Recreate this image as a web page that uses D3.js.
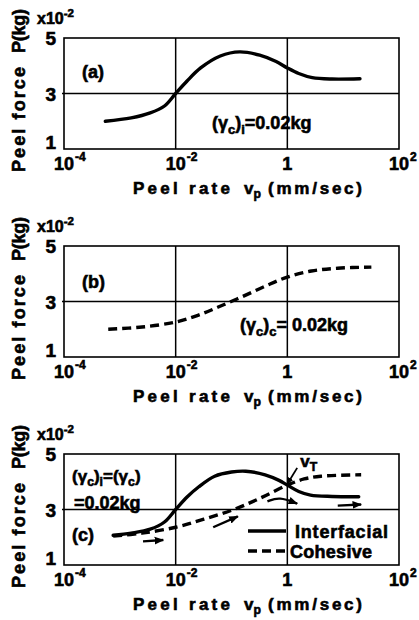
<!DOCTYPE html>
<html>
<head>
<meta charset="utf-8">
<script src="https://cdn.jsdelivr.net/npm/d3@7"></script>
<style>
  body { margin: 0; background: #fff; }
  svg text { font-family: "Liberation Sans", Arial, sans-serif; font-weight: bold; fill: #000;
             stroke: #000; stroke-width: 0.6; white-space: pre; }
</style>
</head>
<body>
<div id="chart"></div>
<script>
// Peel rate in mm/sec, peel force in units of 10^-2 kg

// Axis ticks
var rateTicks = [1e-4, 1e-2, 1, 1e2];
var rateTickExp = ["-4", "-2", "", "2"];
var rateGrid = [1e-2, 1];
var forceTicks = [1, 3, 5];
var forceGrid = [3];

// (a) interfacial failure
var rateA = [5.5e-4, 1.6e-3, 3.5e-3, 6.3e-3, 0.01, 0.016, 0.028, 0.063, 0.14, 0.32, 0.63, 1, 1.6, 2.8, 6.3, 20];
var forceA = [2.0, 2.12, 2.3, 2.55, 3.0, 3.45, 3.92, 4.35, 4.5, 4.38, 4.15, 3.92, 3.72, 3.57, 3.52, 3.53];

// (b) cohesive failure
var rateB = [6.2e-4, 2.5e-3, 0.01, 0.025, 0.058, 0.15, 0.4, 1, 2.7, 8, 32];
var forceB = [2.0, 2.08, 2.26, 2.5, 2.8, 3.16, 3.55, 3.88, 4.1, 4.2, 4.24];

// (c) both
var rateCi = [7.6e-4, 1.6e-3, 3.5e-3, 6.3e-3, 0.01, 0.016, 0.026, 0.05, 0.1, 0.18, 0.4, 0.71, 1, 1.6, 2.6, 6.3, 19];
var forceCi = [2.07, 2.15, 2.29, 2.55, 3.0, 3.45, 3.82, 4.2, 4.35, 4.38, 4.25, 4.05, 3.88, 3.65, 3.52, 3.47, 3.46];
var rateCc = [7.6e-4, 2.5e-3, 0.01, 0.032, 0.11, 0.32, 1, 2, 4, 21];
var forceCc = [2.04, 2.15, 2.36, 2.65, 3.0, 3.4, 3.88, 4.1, 4.2, 4.25];

// hysteresis arrows in (c)
var arrowRates = [[2.6e-3, 6e-3], [0.047, 0.13], [0.44, 0.72, 1.5], [8, 21]];
var arrowForces = [[1.85, 1.9], [2.36, 2.75], [3.29, 3.46, 3.21], [3.14, 3.18]];
// transition rate pointer
var vtRate = [1.5, 1.0];
var vtForce = [4.5, 3.92];

var width = 419, height = 620;
var left = 64, right = 399, panelH = 111;
var tops = [38, 246, 454];

var svg = d3.select("#chart").append("svg")
    .attr("width", width)
    .attr("height", height);

svg.append("defs").append("marker")
    .attr("id", "head")
    .attr("viewBox", "0 0 10 10")
    .attr("refX", 9).attr("refY", 5)
    .attr("markerWidth", 4).attr("markerHeight", 4)
    .attr("markerUnits", "strokeWidth")
    .attr("orient", "auto")
    .append("path")
    .attr("d", "M0,1 L10,5 L0,9 Z")
    .attr("fill", "#000");

var x = d3.scaleLog().domain([1e-4, 1e2]).range([left, right]);

function zip(a, b) {
    return a.map(function (v, i) { return [v, b[i]]; });
}

// text with sub/superscripts: parts = [[text, "n"|"sub"|"sup"], ...]
function richText(g, px, py, parts, size, anchor) {
    var t = g.append("text")
        .attr("x", px).attr("y", py)
        .attr("font-size", size)
        .attr("text-anchor", anchor || "start");
    var shift = 0;
    parts.forEach(function (p) {
        var target = p[1] === "sub" ? size * 0.25 : (p[1] === "sup" ? -size * 0.45 : 0);
        t.append("tspan")
            .attr("dy", target - shift)
            .attr("font-size", p[1] === "n" ? size : size * 0.72)
            .text(p[0]);
        shift = target;
    });
    return t;
}

function drawPanel(top) {
    var g = svg.append("g");
    var y = d3.scaleLinear().domain([1, 5]).range([top + panelH, top]);

    // frame and grid
    g.append("rect")
        .attr("x", left).attr("y", top)
        .attr("width", right - left).attr("height", panelH)
        .attr("fill", "none").attr("stroke", "#000").attr("stroke-width", 1.6);

    g.selectAll(".vgrid").data(rateGrid).join("line")
        .attr("x1", x).attr("x2", x)
        .attr("y1", top).attr("y2", top + panelH)
        .attr("stroke", "#000").attr("stroke-width", 1.5);

    g.selectAll(".hgrid").data(forceGrid).join("line")
        .attr("x1", left - 2).attr("x2", right)
        .attr("y1", y).attr("y2", y)
        .attr("stroke", "#000").attr("stroke-width", 1.5);

    // y tick labels
    g.selectAll(".ytick").data(forceTicks).join("text")
        .attr("x", 56)
        .attr("y", function (d) { return y(d) + (d === 1 ? 0 : 7); })
        .attr("text-anchor", "end")
        .attr("font-size", 19)
        .text(function (d) { return d; });

    richText(g, 37, top - 14, [["x10", "n"], ["-2", "sup"]], 16);

    // x tick labels
    rateTicks.forEach(function (d, i) {
        var label = rateTickExp[i] === "" ? "1" : "10";
        var t = g.append("text")
            .attr("x", x(d)).attr("y", top + panelH + 21)
            .attr("text-anchor", "middle")
            .attr("font-size", 18)
            .text(label);
        if (rateTickExp[i] !== "") {
            var w = t.node().getComputedTextLength();
            g.append("text")
                .attr("x", x(d) + w / 2 + 1).attr("y", top + panelH + 12)
                .attr("font-size", 12)
                .text(rateTickExp[i]);
        }
    });

    // axis titles
    var by = top + panelH + 45;
    g.append("text").attr("x", 133).attr("y", by).attr("font-size", 17)
        .attr("textLength", 97).attr("lengthAdjust", "spacing").text("Peel rate");
    richText(g, 244, by, [["v", "n"], ["p", "sub"]], 17);
    g.append("text").attr("x", 268).attr("y", by).attr("font-size", 17)
        .attr("textLength", 94).attr("lengthAdjust", "spacing").text("(mm/sec)");

    var yl = g.append("g").attr("transform", "translate(25," + (top + 134) + ") rotate(-90)");
    yl.append("text").attr("x", 0).attr("y", 0).attr("font-size", 18)
        .attr("textLength", 105).attr("lengthAdjust", "spacing").text("Peel force");
    yl.append("text").attr("x", 119).attr("y", 0).attr("font-size", 18)
        .attr("textLength", 44).attr("lengthAdjust", "spacing").text("P(kg)");

    return { g: g, y: y };
}

function curve(p, rates, forces, dashed) {
    var line = d3.line()
        .x(function (d) { return x(d[0]); })
        .y(function (d) { return p.y(d[1]); })
        .curve(d3.curveCatmullRom.alpha(0.5));
    return p.g.append("path")
        .datum(zip(rates, forces))
        .attr("d", line)
        .attr("fill", "none")
        .attr("stroke", "#000")
        .attr("stroke-width", 3.4)
        .attr("stroke-linecap", dashed ? "butt" : "round")
        .attr("stroke-dasharray", dashed ? "9,5" : null);
}

// (a)
var pa = drawPanel(tops[0]);
curve(pa, rateA, forceA, false);
pa.g.append("text").attr("x", 82).attr("y", tops[0] + 40).attr("font-size", 18).text("(a)");
richText(pa.g, 212, tops[0] + 91, [["(γ", "n"], ["c", "sub"], [")", "n"], ["i", "sub"], ["=0.02kg", "n"]], 18);

// (b)
var pb = drawPanel(tops[1]);
curve(pb, rateB, forceB, true);
pb.g.append("text").attr("x", 82).attr("y", tops[1] + 42).attr("font-size", 18).text("(b)");
richText(pb.g, 240, tops[1] + 85, [["(γ", "n"], ["c", "sub"], [")", "n"], ["c", "sub"], ["= 0.02kg", "n"]], 18);

// (c)
var pc = drawPanel(tops[2]);
curve(pc, rateCi, forceCi, false);
curve(pc, rateCc, forceCc, true);
richText(pc.g, 72, tops[2] + 28, [["(γ", "n"], ["c", "sub"], [")", "n"], ["i", "sub"], ["=(γ", "n"], ["c", "sub"], [")", "n"]], 17);
pc.g.append("text").attr("x", 74).attr("y", tops[2] + 55).attr("font-size", 18).text("=0.02kg");
pc.g.append("text").attr("x", 72).attr("y", tops[2] + 87).attr("font-size", 18).text("(c)");

var arrowLine = d3.line()
    .x(function (d) { return x(d[0]); })
    .y(function (d) { return pc.y(d[1]); })
    .curve(d3.curveBasis);

arrowRates.forEach(function (r, i) {
    pc.g.append("path")
        .datum(zip(r, arrowForces[i]))
        .attr("d", arrowLine)
        .attr("fill", "none")
        .attr("stroke", "#000")
        .attr("stroke-width", 2.4)
        .attr("marker-end", "url(#head)");
});

pc.g.append("path")
    .datum(zip(vtRate, vtForce))
    .attr("d", arrowLine)
    .attr("fill", "none")
    .attr("stroke", "#000")
    .attr("stroke-width", 1.8)
    .attr("marker-end", "url(#head)");
richText(pc.g, x(vtRate[0]) + 3, pc.y(vtForce[0]) - 1, [["v", "n"], ["T", "sub"]], 17);

// legend
var legend = [["Interfacial", false], ["Cohesive", true]];
legend.forEach(function (d, i) {
    var ly = tops[2] + 77 + i * 20;
    pc.g.append("line")
        .attr("x1", 248).attr("x2", 286)
        .attr("y1", ly).attr("y2", ly)
        .attr("stroke", "#000").attr("stroke-width", 3.4)
        .attr("stroke-dasharray", d[1] ? "9,5" : null);
    pc.g.append("text")
        .attr("x", i === 0 ? 295 : 290).attr("y", ly + 7)
        .attr("font-size", 18)
        .attr("textLength", i === 0 ? 93 : 82).attr("lengthAdjust", "spacing")
        .text(d[0]);
});
</script>
</body>
</html>
